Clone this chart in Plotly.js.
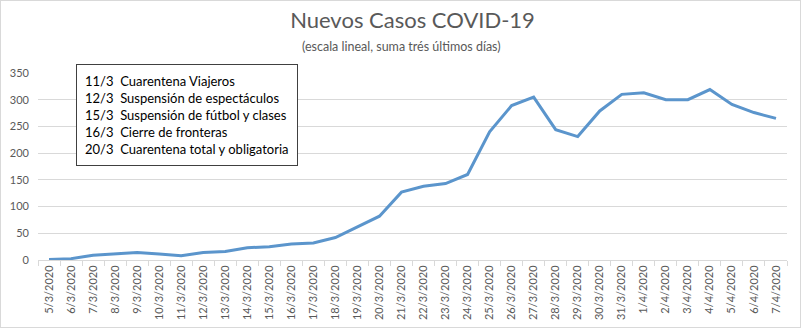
<!DOCTYPE html>
<html>
<head>
<meta charset="utf-8">
<script src="https://cdn.plot.ly/plotly-3.0.1.min.js"></script>
<style>
html,body{margin:0;padding:0;background:#fff;}
#wrap{width:801px;height:328px;box-sizing:border-box;border:1px solid #d9d9d9;overflow:hidden;}
#chart{width:799px;height:326px;}
</style>
</head>
<body>
<div id="wrap"><div id="chart"></div></div>
<script>
const fechas = ["5/3/2020","6/3/2020","7/3/2020","8/3/2020","9/3/2020","10/3/2020","11/3/2020","12/3/2020","13/3/2020","14/3/2020","15/3/2020","16/3/2020","17/3/2020","18/3/2020","19/3/2020","20/3/2020","21/3/2020","22/3/2020","23/3/2020","24/3/2020","25/3/2020","26/3/2020","27/3/2020","28/3/2020","29/3/2020","30/3/2020","31/3/2020","1/4/2020","2/4/2020","3/4/2020","4/4/2020","5/4/2020","6/4/2020","7/4/2020"];
const nuevosCasos = [1,2.5,9,12,14,11,8,14,16,23,25,30,32,42,62,82,127,138,143,160,240,289,305,244,231,279,310,313,300,300,319,291,276,265];
const eventos = ["11/3&nbsp; Cuarentena Viajeros","12/3&nbsp; Suspensión de espectáculos","15/3&nbsp; Suspensión de fútbol y clases","16/3&nbsp; Cierre de fronteras","20/3&nbsp; Cuarentena total y obligatoria"];
const yTicks = [0,50,100,150,200,250,300,350];

const fontFam = "Lato, 'Open Sans', sans-serif";
const trace = {
  x: fechas, y: nuevosCasos, type: "scatter", mode: "lines",
  line: {color: "#5b95cc", width: 3}, hoverinfo: "x+y"
};
const layout = {
  width: 799, height: 326,
  margin: {l: 37, r: 13, t: 72, b: 67, pad: 0},
  paper_bgcolor: "#fff", plot_bgcolor: "#fff",
  font: {family: fontFam, color: "#595959", size: 11},
  showlegend: false,
  title: {text: "Nuevos Casos COVID-19", font: {family: fontFam, size: 22, color: "#595959"},
          x: 0.5, xanchor: "center", xref: "paper", y: 1 - 19/326, yref: "container", yanchor: "middle"},
  xaxis: {type: "category", tickangle: -90, tickson: "boundaries", ticks: "outside", ticklen: 5,
          tickcolor: "#d9d9d9", showline: true, linecolor: "#d9d9d9", linewidth: 1, showgrid: false,
          range: [-0.5, fechas.length - 0.5], tickfont: {size: 11, color: "#595959"}, fixedrange: true},
  yaxis: {range: [0, 350], tickvals: yTicks, ticktext: yTicks.map(String), showgrid: true,
          gridcolor: "#d9d9d9", gridwidth: 1, zeroline: false, showline: false, ticks: "",
          tickfont: {size: 11, color: "#595959"}, fixedrange: true, ticklabelstandoff: 8},
  annotations: [
    {text: "(escala lineal, suma trés últimos días)", xref: "paper", yref: "paper",
     x: (400 - 37) / 749, y: (258.7 - 45) / 187, xanchor: "center", yanchor: "middle",
     showarrow: false, font: {size: 12.5, color: "#595959", family: fontFam}},
    {text: eventos.join("<br>"), xref: "paper", yref: "paper", align: "left",
     x: (75 - 37) / 749, y: (258.7 - 63) / 187, xanchor: "left", yanchor: "top",
     showarrow: false, bordercolor: "#404040", borderwidth: 1, borderpad: 8, bgcolor: "#fff",
     font: {size: 13, color: "#000", family: fontFam}}
  ]
};
Plotly.newPlot("chart", [trace], layout, {displayModeBar: false, staticPlot: true});
</script>
</body>
</html>
